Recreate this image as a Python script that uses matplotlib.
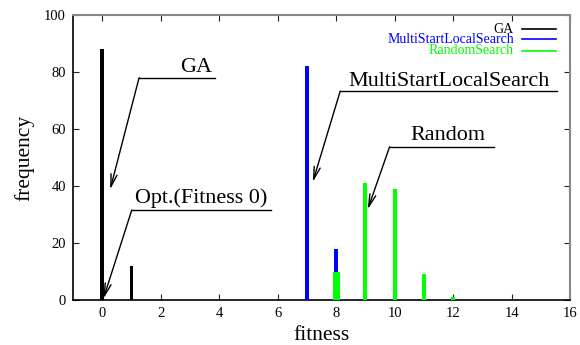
import matplotlib
matplotlib.use("Agg")
import matplotlib.pyplot as plt

plt.rcParams['font.family'] = ['Liberation Serif', 'DejaVu Serif']

ga_x = [0, 1]
ga_y = [88, 12]
msls_x = [7, 8]
msls_y = [82, 18]
rand_x = [8, 9, 10, 11, 12]
rand_y = [10, 41, 39, 9, 1]
rand_w = [0.24, 0.14, 0.14, 0.14, 0.14]

series_names = ['GA', 'MultiStartLocalSearch', 'RandomSearch']
series_colors = ['black', '#0000ff', '#00ff00']

xticks = list(range(0, 17, 2))
yticks = list(range(0, 101, 20))

fig = plt.figure(figsize=(5.8, 3.45), dpi=100)
ax = fig.add_axes([0.1259, 0.1304, 0.8569, 0.8261])

ax.bar(ga_x, ga_y, width=0.13, color=series_colors[0], zorder=3)
ax.bar(msls_x, msls_y, width=0.14, color=series_colors[1], zorder=3)
ax.bar(rand_x, rand_y, width=rand_w, color=series_colors[2], zorder=4)

ax.set_xlim(-1, 16)
ax.set_ylim(0, 100)
ax.set_xticks(xticks)
ax.set_yticks(yticks)
ax.tick_params(direction='in', length=4, width=0.8, top=True, right=True,
               labelsize=10.5, pad=5, colors='#222222', labelcolor='black')

for s in ['left', 'bottom']:
    ax.spines[s].set_color('black')
    ax.spines[s].set_linewidth(1.2)
for s in ['top', 'right']:
    ax.spines[s].set_color('#888888')
    ax.spines[s].set_linewidth(1.5)

ax.set_xlabel('fitness', fontsize=15.5, labelpad=4)
ax.set_ylabel('frequency', fontsize=15.5, labelpad=7)

# annotations: text, text x, text baseline y, underline (x0, x1, y), arrow tip
annots = [
    ('GA', 3.21, 80.0, 1.26, 3.86, 78, 0.27, 38.8),
    ('Opt.(Fitness 0)', 3.4, 33.9, 1.01, 5.78, 31.6, 0.04, 0.5),
    ('MultiStartLocalSearch', 11.85, 75.1, 8.14, 15.54, 73.3, 7.2, 41.4),
    ('Random', 11.83, 56.1, 9.83, 13.39, 53.8, 9.08, 31.8),
]
for txt, tx, ty, x0, x1, ly, ax_, ay in annots:
    ax.plot([x0, x1], [ly, ly], color='black', lw=1.0, zorder=5)
    ax.annotate('', xy=(ax_, ay), xytext=(x0, ly),
                arrowprops=dict(arrowstyle='->,head_length=0.9,head_width=0.22',
                                color='black', lw=1.0, shrinkA=0, shrinkB=0),
                zorder=5)
    ax.text(tx, ty, txt, fontsize=15.9, ha='center', va='baseline', zorder=5)

# key (gnuplot-style: text right-aligned, sample line to the right)
key_y = [0.9498, 0.9147, 0.8747]
for name, col, y in zip(series_names, series_colors, key_y):
    ax.text(0.887, y, name, transform=ax.transAxes, fontsize=10, color=col,
            ha='right', va='center')
    ax.plot([0.9034, 0.9718], [y, y], transform=ax.transAxes, color=col,
            lw=1.2, clip_on=False)

fig.savefig('out.png', dpi=100)
